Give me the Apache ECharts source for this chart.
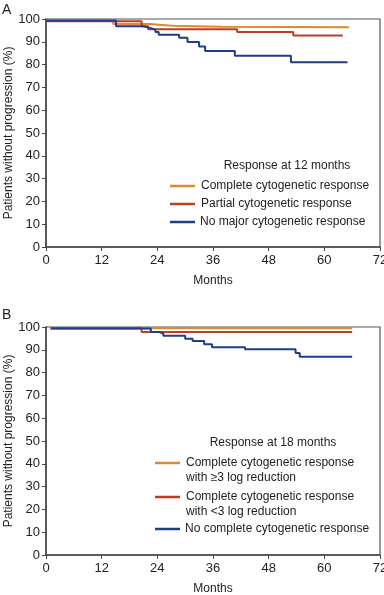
<!DOCTYPE html>
<html><head><meta charset="utf-8">
<script src="https://cdn.jsdelivr.net/npm/echarts@6/dist/echarts.min.js"></script>
<style>html,body{margin:0;padding:0;background:#fff;}#c{width:384px;height:595px;}</style>
</head><body><div id="c"></div>
<script>
// Panel A: response at 12 months (months, % without progression)
var aCompleteX = [0, 13.5, 14.5, 22.3, 27.2, 37.9, 65.3];
var aCompleteY = [99.3, 98.8, 97.8, 97.0, 96.6, 96.4, 96.4];
var aPartialX = [0, 20.6, 22.0, 41.2, 53.3, 64.0];
var aPartialY = [99.0, 96.8, 95.5, 94.3, 92.8, 92.8];
var aNoneX = [0, 15.1, 21.0, 22.6, 23.6, 24.3, 28.7, 30.5, 33.0, 34.3, 40.7, 52.8, 65.0];
var aNoneY = [99.3, 96.8, 96.0, 95.3, 94.3, 93.1, 91.8, 89.9, 87.9, 86.0, 83.9, 81.0, 81.0];
// Panel B: response at 18 months
var bHighX = [1.0, 66.0];
var bHighY = [99.5, 99.5];
var bLowX = [1.0, 20.6, 66.0];
var bLowY = [99.5, 97.8, 97.8];
var bNoneX = [1.0, 22.6, 24.4, 25.3, 30.0, 31.6, 34.1, 35.8, 42.9, 53.8, 54.7, 66.0];
var bNoneY = [99.3, 97.8, 97.1, 96.2, 94.9, 93.9, 92.4, 91.1, 90.2, 88.6, 86.9, 86.9];

var xTicks = [0, 12, 24, 36, 48, 60, 72];
var yTicks = [0, 10, 20, 30, 40, 50, 60, 70, 80, 90, 100];

var legendA = ['Complete cytogenetic response', 'Partial cytogenetic response', 'No major cytogenetic response'];
var legendB = ['Complete cytogenetic response\nwith \u22653 log reduction', 'Complete cytogenetic response\nwith <3 log reduction', 'No complete cytogenetic response'];

var C_OR = '#DC8B2E', C_RD = '#C23B22', C_BL = '#1F3D8A';
var FONT = '"Liberation Sans", Arial, Helvetica, sans-serif';
var TXT = '#222';

function pts(xs, ys) { return xs.map(function (x, i) { return [x, ys[i]]; }); }

function xAx(gi) {
  return {
    gridIndex: gi, type: 'value', min: xTicks[0], max: xTicks[xTicks.length - 1], interval: 12,
    name: 'Months', nameLocation: 'middle', nameGap: 28, nameMoveOverlap: false,
    nameTextStyle: { fontFamily: FONT, fontSize: 12, color: TXT },
    axisLine: { show: true, lineStyle: { color: '#444', width: 1.5 } },
    axisTick: { show: true, length: 4, lineStyle: { color: '#444', width: 1 } },
    axisLabel: { fontFamily: FONT, fontSize: 13, color: TXT, margin: 7 },
    splitLine: { show: false }
  };
}
function yAx(gi) {
  return {
    gridIndex: gi, type: 'value', min: yTicks[0], max: yTicks[yTicks.length - 1], interval: 10,
    name: 'Patients without progression (%)', nameLocation: 'middle', nameGap: 31, nameMoveOverlap: false,
    nameTextStyle: { fontFamily: FONT, fontSize: 12, color: TXT },
    axisLine: { show: true, lineStyle: { color: '#444', width: 1.5 } },
    axisTick: { show: true, length: 4, lineStyle: { color: '#444', width: 1 } },
    axisLabel: { fontFamily: FONT, fontSize: 13, color: TXT, margin: 6 },
    splitLine: { show: false }
  };
}
function ser(name, xi, data, color) {
  return {
    name: name, type: 'line', step: 'end', xAxisIndex: xi, yAxisIndex: xi,
    data: data, symbol: 'none', animation: false,
    lineStyle: { color: color, width: 2 }, itemStyle: { color: color }
  };
}
function txt(x, y, s, align, size) {
  return { type: 'text', x: x, y: y, style: { text: s, fill: TXT, font: (size || 12) + 'px ' + FONT, textAlign: align || 'left', textVerticalAlign: 'middle' } };
}
function seg(x1, x2, y, color) {
  return { type: 'line', shape: { x1: x1, y1: y, x2: x2, y2: y }, style: { stroke: color, lineWidth: 2.5 } };
}

var graphics = [
  txt(2, 10, 'A', 'left', 14),
  txt(2, 315, 'B', 'left', 14),
  txt(287, 166, 'Response at 12 months', 'center'),
  seg(170, 195, 186, C_OR), txt(201, 186, legendA[0]),
  seg(170, 195, 204, C_RD), txt(201, 204, legendA[1]),
  seg(170, 195, 222, C_BL), txt(200, 222, legendA[2]),
  txt(273, 443, 'Response at 18 months', 'center'),
  seg(155, 180, 463, C_OR), txt(186, 463, legendB[0].split('\n')[0]), txt(186, 478, legendB[0].split('\n')[1]),
  seg(155, 180, 497, C_RD), txt(186, 497, legendB[1].split('\n')[0]), txt(186, 512, legendB[1].split('\n')[1]),
  seg(155, 180, 529, C_BL), txt(185, 529, legendB[2])
];

var chart = echarts.init(document.getElementById('c'), null, { renderer: 'canvas' });
chart.setOption({
  backgroundColor: '#fff',
  animation: false,
  grid: [
    { left: 46, top: 19, width: 334, height: 228, show: true, borderColor: '#555', borderWidth: 1.2, containLabel: false, outerBoundsMode: 'none' },
    { left: 46, top: 327, width: 334, height: 228, show: true, borderColor: '#555', borderWidth: 1.2, containLabel: false, outerBoundsMode: 'none' }
  ],
  xAxis: [xAx(0), xAx(1)],
  yAxis: [yAx(0), yAx(1)],
  series: [
    ser(legendA[0], 0, pts(aCompleteX, aCompleteY), C_OR),
    ser(legendA[1], 0, pts(aPartialX, aPartialY), C_RD),
    ser(legendA[2], 0, pts(aNoneX, aNoneY), C_BL),
    ser(legendB[0], 1, pts(bHighX, bHighY), C_OR),
    ser(legendB[1], 1, pts(bLowX, bLowY), C_RD),
    ser(legendB[2], 1, pts(bNoneX, bNoneY), C_BL)
  ],
  graphic: graphics
});
</script></body></html>
